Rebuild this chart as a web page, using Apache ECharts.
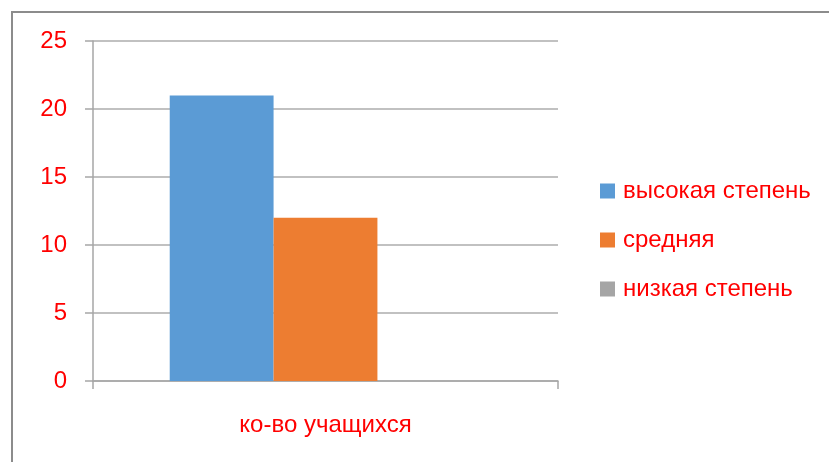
<!DOCTYPE html>
<html>
<head>
<meta charset="utf-8">
<script src="https://cdn.jsdelivr.net/npm/echarts@6/dist/echarts.min.js"></script>
<style>
  html, body { margin: 0; padding: 0; background: #fff; }
  #chart { width: 829px; height: 462px; }
</style>
</head>
<body>
<div id="chart"></div>
<script>
var categories = ["ко-во учащихся"];
var seriesNames = ["высокая степень", "средняя", "низкая степень"];
var highValues = [21];
var midValues = [12];
var lowValues = [0];
var seriesColors = ["#5B9BD5", "#ED7D31", "#A5A5A5"];

(function barChart() {
  var dom = document.getElementById("chart");
  var myChart = echarts.init(dom, null, { renderer: "canvas" });
  var font = "Liberation Sans";
  var red = "#FF0000";

  var values = [highValues, midValues, lowValues];
  var series = seriesNames.map(function (name, i) {
    return {
      name: name,
      type: "bar",
      data: values[i],
      barGap: "0%",
      barCategoryGap: "33%",
      itemStyle: { color: seriesColors[i] },
    };
  });

  var option = {
    animation: false,
    graphic: [
      {
        type: "rect",
        shape: { x: 12, y: 12, width: 900, height: 500 },
        style: { fill: "none", stroke: "#8C8C8C", lineWidth: 2 },
      },
    ],
    grid: { left: 93, top: 41, right: 271, bottom: 81 },
    legend: {
      orient: "vertical",
      left: 595,
      top: 174,
      itemWidth: 15,
      itemHeight: 15,
      itemGap: 25,
      icon: "rect",
      data: seriesNames,
      textStyle: { color: red, fontSize: 24, fontFamily: font, padding: [0, 0, 0, 3] },
    },
    xAxis: {
      type: "category",
      data: categories,
      axisLine: { lineStyle: { color: "#A6A6A6", width: 1.5 } },
      axisTick: { show: true, length: 8, lineStyle: { color: "#A6A6A6", width: 1.5 } },
      axisLabel: { color: red, fontSize: 24, fontFamily: font, margin: 32 },
    },
    yAxis: {
      type: "value",
      min: 0,
      max: 25,
      interval: 5,
      axisLine: { show: true, lineStyle: { color: "#A6A6A6", width: 1.5 } },
      axisTick: { show: true, length: 8, lineStyle: { color: "#A6A6A6", width: 1.5 } },
      splitLine: { lineStyle: { color: "#ADADAD", width: 1.5 } },
      axisLabel: { color: red, fontSize: 24, fontFamily: font, margin: 26 },
    },
    series: series,
  };

  myChart.setOption(option);
  window.addEventListener("resize", myChart.resize);
})();
</script>
</body>
</html>
